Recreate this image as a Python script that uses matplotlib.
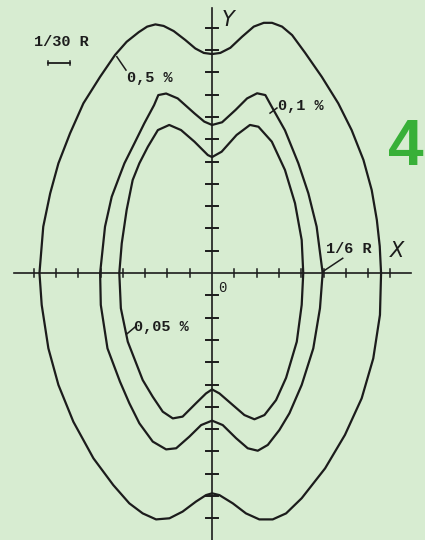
import matplotlib
matplotlib.use('Agg')
import matplotlib.pyplot as plt

"""等浓度曲线 0.5 % / 0.1 % / 0.05 %"""
# 单位: 1 格 = 1/30 R

# 0,5 % 曲线 (外圈)
outer_x = [0, 0.37, 0.82, 1.35, 1.87, 2.32, 2.69, 3.14, 3.59, 4.17, 4.92, 5.66, 6.26, 6.79, 7.16, 7.39, 7.52, 7.58,
           7.53, 7.23, 6.71, 5.96, 5.07, 4.02, 3.32, 2.72, 2.12, 1.52, 0.93, 0.33, 0,
           -0.27, -0.72, -1.32, -1.91, -2.51, -3.11, -3.71, -4.43, -5.32, -6.22, -6.89, -7.34, -7.64, -7.74,
           -7.57, -7.26, -6.89, -6.37, -5.77, -5.02, -4.35, -3.83, -3.29, -2.91, -2.54, -2.17, -1.72, -1.2,
           -0.75, -0.37, 0]
outer_y = [9.82, 9.87, 10.1, 10.6, 11.05, 11.22, 11.22, 11.05, 10.67, 9.88, 8.8, 7.61, 6.41, 5.07, 3.72, 2.38, 1.2, 0,
           -1.88, -3.83, -5.62, -7.26, -8.76, -10.1, -10.78, -11.05, -11.05, -10.78, -10.33, -9.96, -9.88,
           -9.96, -10.25, -10.7, -11.0, -11.05, -10.78, -10.33, -9.51, -8.31, -6.67, -5.02, -3.38, -1.43, 0,
           2.08, 3.57, 4.92, 6.26, 7.61, 8.8, 9.78, 10.37, 10.8, 11.05, 11.15, 11.08, 10.85, 10.45,
           10.07, 9.87, 9.82]

# 0,1 % 曲线 (中圈)
mid_x = [0, 0.45, 1.05, 1.57, 2.02, 2.39, 2.68, 3.27, 3.87, 4.32, 4.69, 4.96,
         4.84, 4.54, 4.02, 3.47, 3.02, 2.5, 2.05, 1.6, 1.08, 0.48, 0,
         -0.49, -1.02, -1.61, -2.06, -2.66, -3.26, -3.71, -4.13, -4.69, -4.99, -5.02,
         -4.8, -4.5, -4.16, -3.93, -3.48, -3.04, -2.6, -2.41, -2.06, -1.54, -0.79, -0.35, 0]
mid_y = [6.64, 6.76, 7.31, 7.83, 8.06, 7.98, 7.45, 6.4, 4.92, 3.57, 2.08, 0,
         -1.58, -3.38, -5.02, -6.29, -7.04, -7.71, -7.97, -7.86, -7.41, -6.82, -6.62,
         -6.82, -7.34, -7.86, -7.91, -7.56, -6.74, -5.84, -4.87, -3.38, -1.43, 0,
         2.08, 3.42, 4.32, 4.92, 5.82, 6.71, 7.53, 7.98, 8.05, 7.83, 7.16, 6.79, 6.64]

# 0,05 % 曲线 (内圈)
inner_x = [0, 0.43, 1.1, 1.7, 2.08, 2.68, 3.27, 3.72, 4.02, 4.09,
           4.02, 3.8, 3.32, 2.87, 2.35, 1.9, 1.45, 0.93, 0.33, 0,
           -0.27, -0.72, -1.32, -1.76, -2.21, -2.66, -3.11, -3.78, -4.09, -4.16,
           -4.05, -3.83, -3.56, -3.26, -2.88, -2.43, -1.92, -1.39, -0.79, -0.19, 0]
inner_y = [5.2, 5.44, 6.19, 6.64, 6.56, 5.89, 4.62, 3.13, 1.48, 0,
           -1.43, -3.08, -4.7, -5.7, -6.37, -6.56, -6.37, -5.92, -5.4, -5.22,
           -5.4, -5.84, -6.44, -6.52, -6.22, -5.55, -4.8, -3.08, -1.58, 0,
           1.33, 2.83, 4.17, 4.92, 5.66, 6.41, 6.64, 6.41, 5.89, 5.29, 5.2]

# 坐标轴刻度
x_ticks = [-8, -7, -6, -5, -4, -3, -2, -1, 1, 2, 3, 4, 5, 6, 7, 8]
y_ticks = [-11, -10, -9, -8, -7, -6, -5, -4, -3, -2, -1, 1, 2, 3, 4, 5, 6, 7, 8, 9, 10, 11]

bg = '#d7ecd1'
ink = '#1c1c1c'
mono = 'Liberation Mono'

fig = plt.figure(figsize=(4.25, 5.4), dpi=100, facecolor=bg)
ax = fig.add_axes([0, 0, 1, 1])
ax.set_facecolor(bg)
ax.set_xlim(-9.51, 9.55)
ax.set_ylim(-11.97, 12.24)
ax.set_aspect('equal')
ax.axis('off')

# 三条曲线
for xs, ys in [(outer_x, outer_y), (mid_x, mid_y), (inner_x, inner_y)]:
    ax.plot(xs, ys, color=ink, lw=1.6, solid_joinstyle='round', solid_capstyle='round')

# X / Y 轴
ax.plot([-8.9, 8.9], [0, 0], color=ink, lw=1.2)
ax.plot([0, 0], [-12.5, 11.9], color=ink, lw=1.2)
for t in x_ticks:
    ax.plot([t, t], [-0.2, 0.2], color=ink, lw=1.1)
for t in y_ticks:
    ax.plot([-0.26, 0.26], [t, t], color=ink, lw=1.4)

ax.text(0.72, 11.35, 'Y', fontsize=15, style='italic', color=ink, ha='center', va='center')
ax.text(8.3, 0.99, 'X', fontsize=15, style='italic', color=ink, ha='center', va='center')
ax.text(0.45, -0.67, '0', fontsize=10, family=mono, color=ink, ha='center', va='center')

# 比例尺 1/30 R
ax.text(-6.77, 10.36, '1/30 R', fontsize=11, family=mono, fontweight='bold', color=ink,
        ha='center', va='center')
ax.plot([-7.35, -6.37], [9.42, 9.42], color=ink, lw=1.3)
ax.plot([-7.35, -7.35], [9.33, 9.51], color=ink, lw=1.1)
ax.plot([-6.37, -6.37], [9.33, 9.51], color=ink, lw=1.1)

# 曲线标注
ax.plot([-4.27, -3.86], [9.7, 9.1], color=ink, lw=1.1)
ax.text(-2.78, 8.74, '0,5 %', fontsize=11, family=mono, fontweight='bold', color=ink,
        ha='center', va='center')
ax.plot([2.6, 2.91], [7.17, 7.4], color=ink, lw=1.1)
ax.text(3.99, 7.49, '0,1 %', fontsize=11, family=mono, fontweight='bold', color=ink,
        ha='center', va='center')
ax.plot([-3.83, -3.45], [-2.74, -2.42], color=ink, lw=1.1)
ax.text(-2.29, -2.42, '0,05 %', fontsize=11, family=mono, fontweight='bold', color=ink,
        ha='center', va='center')
ax.plot([4.96, 5.86], [0.06, 0.66], color=ink, lw=1.1)
ax.text(6.14, 1.08, '1/6 R', fontsize=11, family=mono, fontweight='bold', color=ink,
        ha='center', va='center')

# 页码 4
ax.text(9.47, 4.84, '4', fontsize=46, fontweight='bold', family='Liberation Sans',
        color='#38b038', ha='right', va='baseline')

fig.savefig('out.png', dpi=100, facecolor=bg)
